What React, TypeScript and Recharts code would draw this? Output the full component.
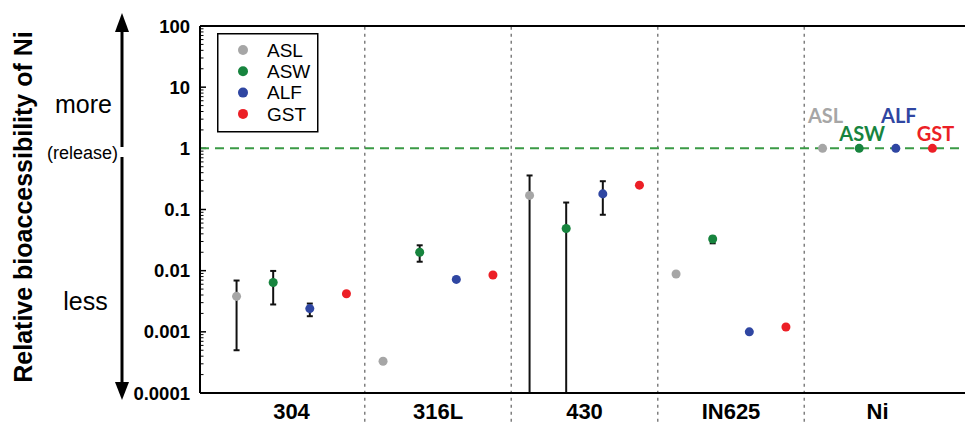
import React from 'react';
import {
  ScatterChart,
  Scatter,
  XAxis,
  YAxis,
  ZAxis,
  ErrorBar,
  ReferenceLine,
  Legend,
  LabelList,
} from 'recharts';

// ---------------- data ----------------
const CATEGORIES = ['304', '316L', '430', 'IN625', 'Ni'];
const SERIES_NAMES = ['ASL', 'ASW', 'ALF', 'GST'];
const SERIES_COLORS = ['#a6a6a6', '#17843e', '#2f46a2', '#ec1f26'];

const ASL_VALUES = [0.0038, 0.00033, 0.17, 0.0088, 1];
const ASL_LOW = [0.0005, null, 0.0001, null, null];
const ASL_HIGH = [0.0069, null, 0.36, null, null];

const ASW_VALUES = [0.0064, 0.02, 0.049, 0.033, 1];
const ASW_LOW = [0.0028, 0.014, 0.0001, 0.028, null];
const ASW_HIGH = [0.0099, 0.026, 0.13, 0.036, null];

const ALF_VALUES = [0.0024, 0.0072, 0.18, 0.001, 1];
const ALF_LOW = [0.0018, null, 0.082, null, null];
const ALF_HIGH = [0.0029, null, 0.29, null, null];

const GST_VALUES = [0.0042, 0.0085, 0.25, 0.0012, 1];
const GST_LOW = [null, null, null, null, null];
const GST_HIGH = [null, null, null, null, null];

const Y_TICKS = [0.0001, 0.001, 0.01, 0.1, 1, 10, 100];
const Y_TICK_LABELS = ['0.0001', '0.001', '0.01', '0.1', '1', '10', '100'];
const REFERENCE_LEVEL = 1;
const LABELLED_CATEGORY = 'Ni';

// ---------------- layout ----------------
const FONT = "'Liberation Sans', Arial, sans-serif";
const X_MIN = 0.37543;
const X_MAX = 5.5972;
const PLOT_W = 765;
const UNIT_PX = (X_MAX - X_MIN) / PLOT_W;
const SERIES_OFFSETS = [-0.375, -0.125, 0.125, 0.375];
const LABEL_DY = [-25, -7.5, -25, -7.5];

const ALL_VALUES = [ASL_VALUES, ASW_VALUES, ALF_VALUES, GST_VALUES];
const ALL_LOW = [ASL_LOW, ASW_LOW, ALF_LOW, GST_LOW];
const ALL_HIGH = [ASL_HIGH, ASW_HIGH, ALF_HIGH, GST_HIGH];

const seriesData = SERIES_NAMES.map((name, s) =>
  ALL_VALUES[s].map((v, i) => ({
    x: i + 1 + SERIES_OFFSETS[s],
    y: v,
    err: [
      ALL_LOW[s][i] == null ? 0 : v - (ALL_LOW[s][i] as number),
      ALL_HIGH[s][i] == null ? 0 : (ALL_HIGH[s][i] as number) - v,
    ],
    tag: CATEGORIES[i] === LABELLED_CATEGORY ? name : '',
  }))
);

const minorTicks: number[] = [];
for (let d = -4; d <= 1; d++) {
  for (let k = 2; k <= 9; k++) minorTicks.push(k * Math.pow(10, d));
}

const separators = CATEGORIES.slice(0, -1).map((_, i) => i + 1.5);

const LegendBox = (props: any) => {
  const payload = [...(props.payload || [])].sort(
    (a: any, b: any) => SERIES_NAMES.indexOf(a.value) - SERIES_NAMES.indexOf(b.value)
  );
  return (
    <svg width={102} height={100} style={{ display: 'block' }}>
      <rect x={0.75} y={0.75} width={100} height={98} fill="#fff" stroke="#000" strokeWidth={1.5} />
      {payload.map((p: any, i: number) => (
        <g key={i}>
          <circle cx={26} cy={17 + 21.3 * i} r={5} fill={p.color} />
          <text x={50} y={17 + 21.3 * i} dy="0.36em" fontSize={19} fontFamily={FONT} fill="#000">
            {p.value}
          </text>
        </g>
      ))}
    </svg>
  );
};

const makeTagLabel = (color: string, dy: number) => (props: any) => {
  const { value } = props;
  if (!value) return null;
  const vb = props.viewBox || props;
  const cx = (vb.x ?? 0) + (vb.width ?? 0) / 2;
  const cy = (vb.y ?? 0) + (vb.height ?? 0) / 2;
  return (
    <text
      x={cx + 3}
      y={cy + dy}
      textAnchor="middle"
      fontFamily="Lato, 'Liberation Sans', sans-serif"
      fontWeight="bold"
      fontSize={20}
      fill={color}
    >
      {value}
    </text>
  );
};

export default function App() {
  return (
    <div style={{ position: 'absolute', left: 0, top: 0, width: 965, height: 424, background: '#fff' }}>
      <ScatterChart
        width={965}
        height={424}
        margin={{ top: 26, right: 0, bottom: 0, left: 0 }}
      >
        <XAxis
          type="number"
          dataKey="x"
          domain={[X_MIN, X_MAX]}
          allowDataOverflow
          ticks={[1, 2, 3, 4, 5]}
          interval={0}
          tickFormatter={(v: number) => CATEGORIES[v - 1]}
          height={31}
          tickLine={false}
          tickSize={6}
          tickMargin={4.4}
          axisLine={{ stroke: '#000', strokeWidth: 2 }}
          tick={{ fontSize: 22, fontWeight: 'bold', fill: '#000', fontFamily: FONT }}
        />
        <YAxis
          type="number"
          dataKey="y"
          scale="log"
          domain={[0.0001, 100]}
          allowDataOverflow
          ticks={Y_TICKS}
          interval={0}
          tickFormatter={(v: number) => Y_TICK_LABELS[Y_TICKS.indexOf(v)] ?? String(v)}
          width={200}
          tickLine={false}
          tickSize={6}
          tickMargin={4}
          axisLine={{ stroke: '#000', strokeWidth: 2 }}
          tick={{ fontSize: 18.5, fontWeight: 'bold', fill: '#000', fontFamily: FONT }}
        />
        <ZAxis range={[95, 95]} />

        {separators.map((sx) => (
          <ReferenceLine
            key={'sep' + sx}
            segment={[{ x: sx, y: 0.00002 }, { x: sx, y: 100 }]}
            stroke="#7f7f7f"
            strokeWidth={1.5}
            strokeDasharray="3 4"
            ifOverflow="visible"
          />
        ))}

        <ReferenceLine y={100} stroke="#000" strokeWidth={2} ifOverflow="visible" />

        {Y_TICKS.map((t) => (
          <ReferenceLine
            key={'maj' + t}
            segment={[{ x: X_MIN, y: t }, { x: X_MIN + 6 * UNIT_PX, y: t }]}
            stroke="#000"
            strokeWidth={1.5}
            ifOverflow="visible"
          />
        ))}
        {minorTicks.map((t) => (
          <ReferenceLine
            key={'min' + t}
            segment={[{ x: X_MIN, y: t }, { x: X_MIN + 3.5 * UNIT_PX, y: t }]}
            stroke="#000"
            strokeWidth={1}
            ifOverflow="visible"
          />
        ))}

        <ReferenceLine
          y={REFERENCE_LEVEL}
          stroke="#3a9a45"
          strokeWidth={2}
          strokeDasharray="9 6"
        />

        {SERIES_NAMES.map((name, s) => (
          <Scatter
            key={name}
            name={name}
            data={seriesData[s]}
            fill={SERIES_COLORS[s]}
            isAnimationActive={false}
          >
            <ErrorBar
              dataKey="err"
              direction="y"
              width={3}
              stroke="#111"
              strokeWidth={2}
              isAnimationActive={false}
            />
            <LabelList dataKey="tag" content={makeTagLabel(SERIES_COLORS[s], LABEL_DY[s])} />
          </Scatter>
        ))}

        <Legend
          layout="vertical"
          align="center"
          verticalAlign="middle"
          content={<LegendBox />}
          wrapperStyle={{ position: 'absolute', left: 217, top: 33, width: 102, height: 100 }}
        />
      </ScatterChart>

      <svg
        width={200}
        height={424}
        style={{ position: 'absolute', left: 0, top: 0, pointerEvents: 'none' }}
      >
        <text
          transform="translate(32,207) rotate(-90)"
          textAnchor="middle"
          fontFamily={FONT}
          fontWeight="bold"
          fontSize={25}
          fill="#000"
        >
          Relative bioaccessibility of Ni
        </text>
        <line x1={122} y1={30} x2={122} y2={147} stroke="#000" strokeWidth={3} />
        <line x1={122} y1={157} x2={122} y2={384} stroke="#000" strokeWidth={3} />
        <polygon points="122,13 115,32 129,32" fill="#000" />
        <polygon points="122,400 115,382 129,382" fill="#000" />
        <text x={83.5} y={113} textAnchor="middle" fontFamily={FONT} fontSize={25} fill="#000">
          more
        </text>
        <text x={82.5} y={159} textAnchor="middle" fontFamily={FONT} fontSize={18} fill="#000">
          (release)
        </text>
        <text x={85.5} y={310} textAnchor="middle" fontFamily={FONT} fontSize={25} fill="#000">
          less
        </text>
      </svg>
    </div>
  );
}
